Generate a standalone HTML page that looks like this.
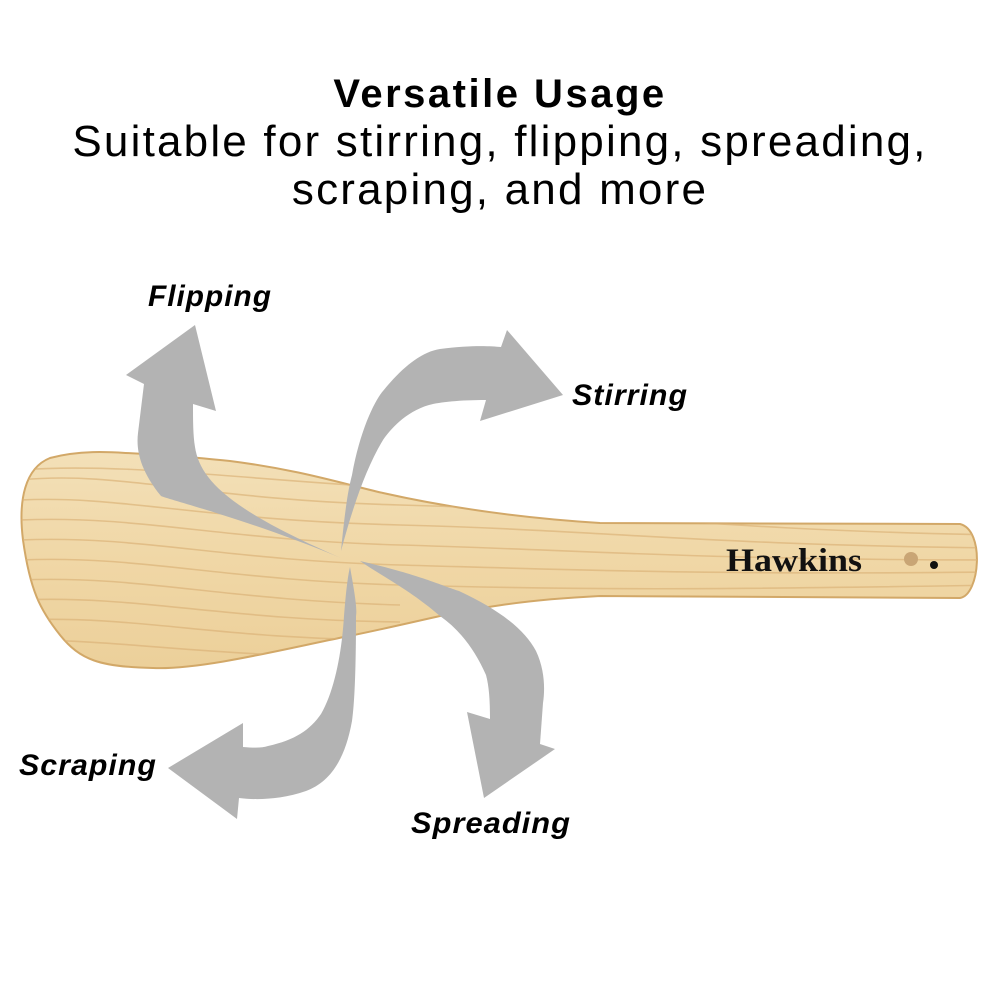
<!DOCTYPE html>
<html><head><meta charset="utf-8"><style>
html,body{margin:0;padding:0;background:#fff;}
body{width:1000px;height:1000px;position:relative;overflow:hidden;font-family:"Liberation Sans","DejaVu Sans",sans-serif;}
.t{position:absolute;left:0;width:1000px;text-align:center;color:#000;}
</style></head><body>
<div class="t" style="top:72px;font-size:40px;font-weight:bold;letter-spacing:2.5px;">Versatile Usage</div>
<div class="t" style="top:118px;font-size:44px;line-height:48px;letter-spacing:2.2px;">Suitable for stirring, flipping, spreading,<br>scraping, and more</div>
<svg width="1000" height="1000" style="position:absolute;left:0;top:0">
<defs>
<linearGradient id="w" x1="0" y1="0" x2="0" y2="1">
<stop offset="0" stop-color="#f3e0b8"/><stop offset="0.5" stop-color="#f0d7a6"/><stop offset="1" stop-color="#ecd09a"/>
</linearGradient>
<clipPath id="c"><path id="sp" d="M50,458 C80,450 110,452 126,453 C170,455 200,458 230,461 C300,470 340,483 383,493 C450,508 520,518 600,523 L960,524 C985,530 980,595 960,598 L600,596 C520,600 480,608 440,616 C400,625 370,632 344,637 C280,650 200,670 153,668 C100,667 80,660 60,635 C40,610 30,590 23,540 C18,500 25,468 50,458 Z"/></clipPath>
</defs>
<use href="#sp" fill="url(#w)" stroke="#d2a868" stroke-width="2"/>
<g clip-path="url(#c)" stroke="#dcb47a" stroke-width="1.6" fill="none" opacity="0.7">
<path d="M20,480 C120,470 200,500 400,505 S700,530 1000,535"/>
<path d="M20,500 C120,495 200,520 400,525 S700,545 1000,548"/>
<path d="M20,520 C140,515 220,540 400,545 S700,560 1000,560"/>
<path d="M20,540 C140,535 220,560 400,565 S700,575 1000,572"/>
<path d="M20,560 C140,555 220,580 400,585 S700,590 1000,585"/>
<path d="M20,580 C140,575 220,600 400,605"/>
<path d="M20,600 C140,595 220,620 400,622"/>
<path d="M20,620 C140,615 220,640 400,640"/>
<path d="M20,640 C140,640 220,660 400,655"/>
<path d="M20,470 C120,462 250,480 400,488"/>
</g>
<text x="726" y="571" font-family="Liberation Serif, serif" font-weight="bold" font-size="33" fill="#111" textLength="136" lengthAdjust="spacingAndGlyphs">Hawkins</text>
<circle cx="911" cy="559" r="7" fill="#c9a575"/>
<circle cx="934" cy="565" r="4" fill="#111"/>
<g fill="#b3b3b3">
<path d="M341,558 C250,520 170,500 161,496 C140,470 136,450 138,433 L144,384 L126,375 L195,325 L216,411 L193,404 C193,420 193,435 195,447 C200,480 230,510 341,558 Z"/>
<path d="M341,551 C345,510 348,490 352,475 C360,430 375,400 383,391 C400,370 420,352 440,349 C470,345 490,346 501,347 L507,330 L563,395 L480,421 L486,400 C460,400 440,402 429,405 C405,412 390,430 383,440 C365,470 352,510 341,551 Z"/>
<path d="M360,561 C420,575 440,585 459,591 C500,610 525,630 536,651 C545,670 545,690 543,703 L540,744 L555,749 L484,798 L467,712 L490,719 C490,700 489,686 486,675 C475,650 460,630 440,616 C410,590 380,575 360,561 Z"/>
<path d="M350,567 C356,600 357,610 356,616 C356,660 355,700 352,721 C345,760 330,782 306,791 C280,800 255,800 239,798 L237,819 L168,768 L243,723 L243,747 C255,748 262,748 268,746 C295,740 310,730 321,714 C335,690 342,650 344,616 C346,590 348,575 350,567 Z"/>
</g>
<g font-family="Liberation Sans, sans-serif" font-style="italic" font-weight="bold" font-size="30" fill="#000" letter-spacing="1">
<text x="148" y="306" textLength="124" lengthAdjust="spacingAndGlyphs">Flipping</text>
<text x="572" y="405" textLength="116" lengthAdjust="spacingAndGlyphs">Stirring</text>
<text x="19" y="775" textLength="138" lengthAdjust="spacingAndGlyphs">Scraping</text>
<text x="411" y="833" textLength="160" lengthAdjust="spacingAndGlyphs">Spreading</text>
</g>
</svg>
</body></html>
